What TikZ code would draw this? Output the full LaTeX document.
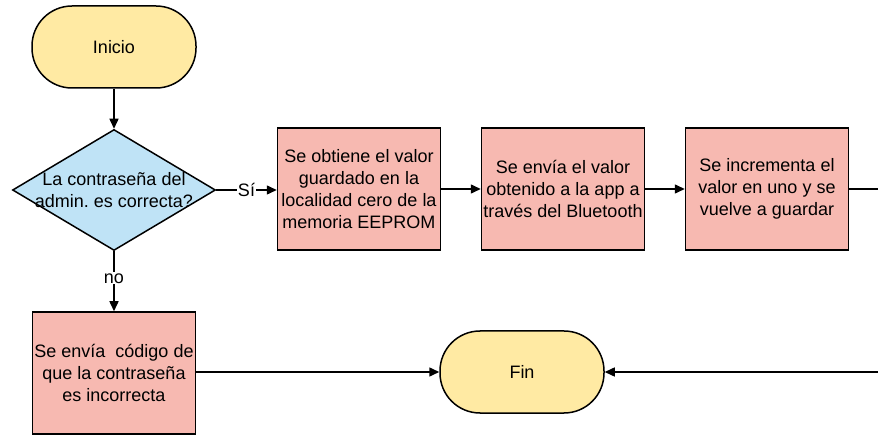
\documentclass[tikz,border=0pt]{standalone}
\usepackage{fontspec}
\setmainfont{Liberation Sans}
\usetikzlibrary{arrows.meta,shapes.geometric}
\definecolor{termfill}{HTML}{FFEAA3}
\definecolor{decfill}{HTML}{BFE3F6}
\definecolor{procfill}{HTML}{F7B9B1}
\begin{document}
\begin{tikzpicture}[x=1pt,y=-1pt,
  every node/.style={font=\fontsize{18}{22}\selectfont},
  terminal/.style={draw, line width=1.5pt, fill=termfill, rounded corners=40pt, minimum width=164pt, minimum height=82pt, inner sep=0pt},
  decision/.style={draw, line width=1.5pt, fill=decfill, diamond, minimum width=203pt, minimum height=121pt, inner sep=0pt},
  process/.style={draw, line width=1.5pt, fill=procfill, minimum width=163pt, minimum height=122pt, inner sep=0pt, align=center},
  conn/.style={line width=1.5pt, -{Triangle[length=10pt,width=9pt]}},
  plain/.style={line width=1.5pt},
  lbl/.style={fill=white, inner sep=1pt}]
\useasboundingbox (0,0) rectangle (878,435);
\node[terminal] (inicio) at (114,47) {Inicio};
\node[decision, label={[align=center]center:La contraseña del\\admin.\ es correcta?}] (dec) at (114,190) {};
\node[process] (p1) at (359,189) {Se obtiene el valor\\guardado en la\\localidad cero de la\\memoria EEPROM};
\node[process] (p2) at (563,189) {Se envía el valor\\obtenido a la app a\\través del Bluetooth};
\node[process] (p3) at (767,189) {Se incrementa el\\valor en uno y se\\vuelve a guardar};
\node[process] (p4) at (114,373) {Se envía\ \ código de\\que la contraseña\\es incorrecta};
\node[terminal] (fin) at (522,372) {Fin};
\coordinate (outA) at (878,189);
\coordinate (outB) at (878,372);
\draw[conn] (inicio) -- (dec);
\draw[conn] (dec.east) -- node[lbl]{Sí} (p1.west |- dec.east);
\draw[conn] (p1) -- (p2);
\draw[conn] (p2) -- (p3);
\draw[plain] (p3.east) -- (outA);
\draw[conn] (dec.south) -- node[lbl, pos=0.45]{no} (p4.north);
\draw[conn] (p4.east |- fin) -- (fin.west);
\draw[conn] (outB) -- (fin.east);
\end{tikzpicture}
\end{document}
